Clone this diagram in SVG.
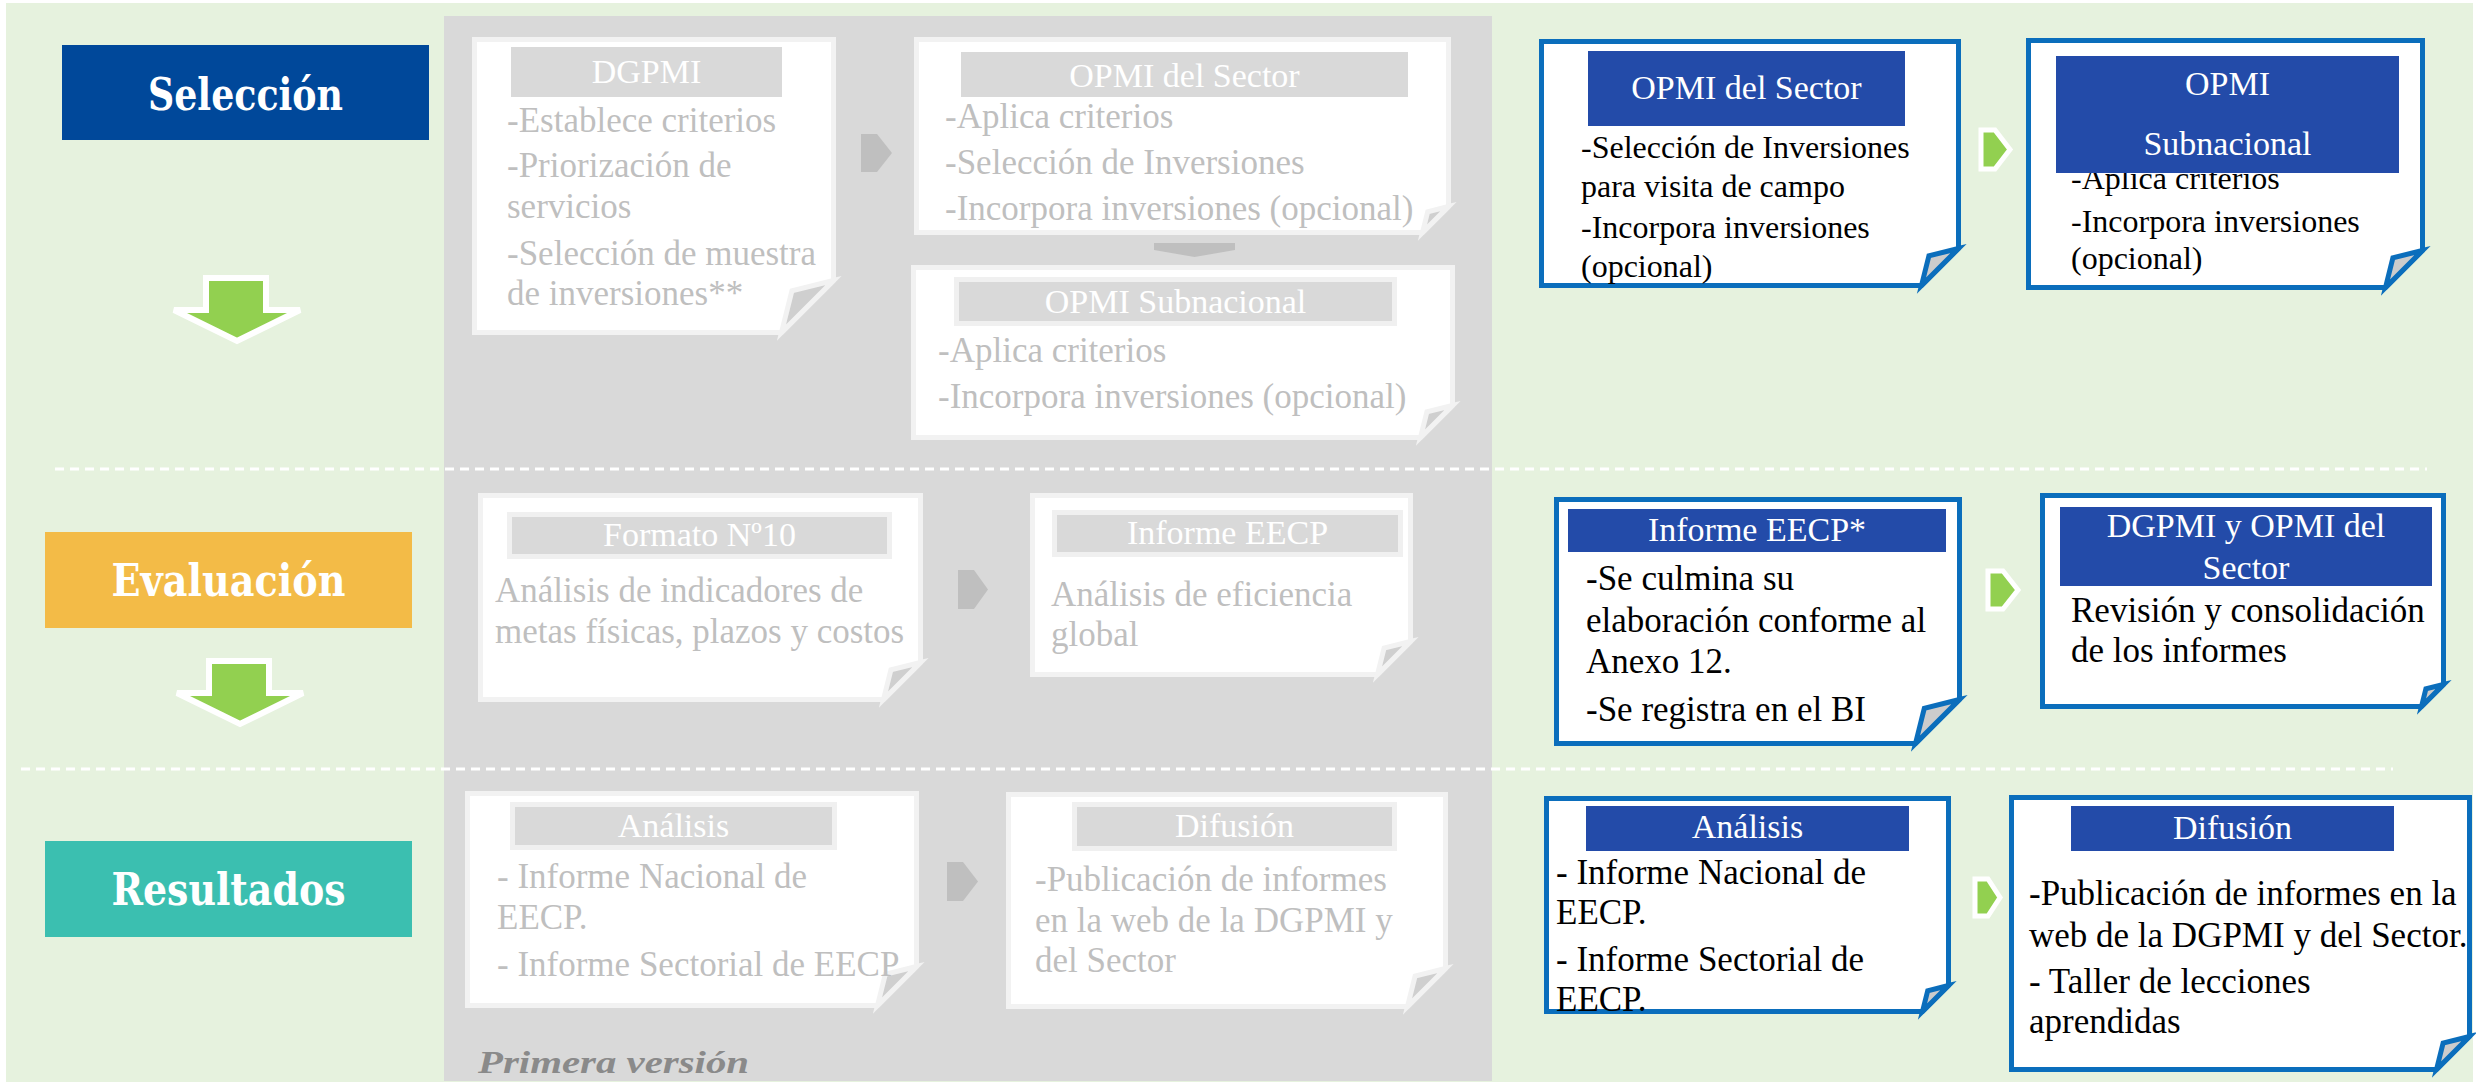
<svg xmlns="http://www.w3.org/2000/svg" width="2476" height="1084" viewBox="0 0 2476 1084">
<defs>
<style>
.bg{fill:#E6F2DE}
.panel{fill:#D9D9D9}
.gdoc{fill:#FFFFFF;stroke:#F2F2F2;stroke-width:5;stroke-linejoin:miter}
.gfold{fill:#CFCFCF;stroke:#F2F2F2;stroke-width:5;stroke-linejoin:miter}
.bdoc{fill:#FFFFFF;stroke:#0B6EBC;stroke-width:5;stroke-linejoin:miter}
.bfold{fill:#CCCCCC;stroke:#0B6EBC;stroke-width:5;stroke-linejoin:miter}
.ghead{fill:#D9D9D9}
.gheadb{fill:#D9D9D9;stroke:#F0F0F0;stroke-width:5}
.bhead{fill:#234BA9}
.ht{font-family:"Liberation Serif",serif;font-size:34px;fill:#FFFFFF;text-anchor:middle}
.gt{font-family:"Liberation Serif",serif;font-size:35px;fill:#BFBFBF}
.bt{font-family:"Liberation Serif",serif;font-size:35px;fill:#000000}
.bt2{font-family:"Liberation Serif",serif;font-size:32px;fill:#000000}
.lbl{font-family:"DejaVu Serif Condensed","DejaVu Serif",serif;font-weight:bold;font-size:44px;fill:#FFFFFF;text-anchor:middle}
.gchev{fill:#BFBFBF}
.green{fill:#92D050;stroke:#FFFFFF;stroke-width:5;stroke-linejoin:miter}
.dash{stroke:#FFFFFF;stroke-width:3;stroke-dasharray:9 6;fill:none}
.darrow{fill:#92D050;stroke:#FFFFFF;stroke-width:6;stroke-linejoin:miter}
</style>
<polygon id="downArrow" points="206,278 266,278 266,310 300,310 237,341 174,310 206,310"/>
</defs>
<rect x="0" y="0" width="2476" height="1084" fill="#FFFFFF"/>
<rect class="bg" x="6" y="3" width="2467" height="1079"/>
<rect class="panel" x="444" y="16" width="1048" height="1065"/>

<g id="separators">
<line class="dash" x1="55" y1="469" x2="2427" y2="469"/>
<line class="dash" x1="21" y1="769" x2="2393" y2="769"/>
</g>

<g id="label-seleccion">
<rect x="62" y="45" width="367" height="95" fill="#00489A"/>
<text class="lbl" x="245.5" y="110" textLength="195" lengthAdjust="spacingAndGlyphs">Selección</text>
</g>
<g id="label-evaluacion">
<rect x="45" y="532" width="367" height="96" fill="#F3BB47"/>
<text class="lbl" x="228.5" y="596" textLength="234" lengthAdjust="spacingAndGlyphs">Evaluación</text>
</g>
<g id="label-resultados">
<rect x="45" y="841" width="367" height="96" fill="#3BBFB0"/>
<text class="lbl" x="228.5" y="905" textLength="234" lengthAdjust="spacingAndGlyphs">Resultados</text>
</g>

<g id="connectors">
<use href="#downArrow" class="darrow"/>
<use href="#downArrow" class="darrow" transform="translate(3,383)"/>
<polygon class="gchev" points="861,134 877,134 892,153 877,172 861,172"/>
<polygon class="gchev" points="1154,243 1235,243 1235,250 1194.5,257 1154,250"/>
<polygon class="gchev" points="958,570 974,570 988,589.5 974,609 958,609"/>
<polygon class="gchev" points="947,862 963,862 978,881.5 963,901 947,901"/>
<polygon class="green" points="1981,130 1995,130 2010,149.5 1995,169 1981,169"/>
<polygon class="green" points="1988,571 2003,571 2018,590 2003,609 1988,609"/>
<polygon class="green" points="1975,879 1988,879 2000,897.5 1988,916 1975,916"/>
</g>

<g id="g-dgpmi">
<path class="gdoc" d="M474.5,39.5 H833.5 V280.5 L781.5,332.5 H474.5 Z"/>
<path class="gfold" d="M833.5,280.5 L791.9,290.9 L781.5,332.5 Z"/>
<rect class="ghead" x="511" y="47" width="271" height="50"/>
<text class="ht" x="646.5" y="83">DGPMI</text>
<text class="gt" x="507" y="132">-Establece criterios</text>
<text class="gt" x="507" y="177">-Priorización de</text>
<text class="gt" x="507" y="218">servicios</text>
<text class="gt" x="507" y="265">-Selección de muestra</text>
<text class="gt" x="507" y="305">de inversiones**</text>
</g>

<g id="g-opmi-sector">
<path class="gdoc" d="M916.5,39.5 H1448.5 V206.5 L1422.5,232.5 H916.5 Z"/>
<path class="gfold" d="M1448.5,206.5 L1427.7,211.7 L1422.5,232.5 Z"/>
<rect class="ghead" x="961" y="52" width="447" height="45"/>
<text class="ht" x="1184.5" y="87">OPMI del Sector</text>
<text class="gt" x="945" y="128">-Aplica criterios</text>
<text class="gt" x="945" y="174">-Selección de Inversiones</text>
<text class="gt" x="945" y="220">-Incorpora inversiones (opcional)</text>
</g>

<g id="g-opmi-subnacional">
<path class="gdoc" d="M913.5,267.5 H1452.5 V405.5 L1420.5,437.5 H913.5 Z"/>
<path class="gfold" d="M1452.5,405.5 L1426.9,411.9 L1420.5,437.5 Z"/>
<rect class="gheadb" x="956.5" y="279.5" width="438" height="44"/>
<text class="ht" x="1175.5" y="313">OPMI Subnacional</text>
<text class="gt" x="938" y="362">-Aplica criterios</text>
<text class="gt" x="938" y="408">-Incorpora inversiones (opcional)</text>
</g>

<g id="g-formato">
<path class="gdoc" d="M480.5,495.5 H920.5 V662.5 L883.5,699.5 H480.5 Z"/>
<path class="gfold" d="M920.5,662.5 L890.9,669.9 L883.5,699.5 Z"/>
<rect class="gheadb" x="509.5" y="514.5" width="380" height="42"/>
<text class="ht" x="699.5" y="546">Formato Nº10</text>
<text class="gt" x="495" y="602">Análisis de indicadores de</text>
<text class="gt" x="495" y="643">metas físicas, plazos y costos</text>
</g>

<g id="g-informe">
<path class="gdoc" d="M1032.5,495.5 H1410.5 V641.5 L1377.5,674.5 H1032.5 Z"/>
<path class="gfold" d="M1410.5,641.5 L1384.1,648.1 L1377.5,674.5 Z"/>
<rect class="gheadb" x="1054.5" y="512.5" width="346" height="42"/>
<text class="ht" x="1227.5" y="544">Informe EECP</text>
<text class="gt" x="1051" y="606">Análisis de eficiencia</text>
<text class="gt" x="1051" y="646">global</text>
</g>

<g id="g-analisis">
<path class="gdoc" d="M467.5,793.5 H916.5 V966.5 L877.5,1005.5 H467.5 Z"/>
<path class="gfold" d="M916.5,966.5 L885.3,974.3 L877.5,1005.5 Z"/>
<rect class="gheadb" x="512.5" y="804.5" width="322" height="43"/>
<text class="ht" x="673.5" y="837">Análisis</text>
<text class="gt" x="497" y="888">- Informe Nacional de</text>
<text class="gt" x="497" y="929">EECP.</text>
<text class="gt" x="497" y="976">- Informe Sectorial de EECP</text>
</g>

<g id="g-difusion">
<path class="gdoc" d="M1008.5,794.5 H1445.5 V968.5 L1407.5,1006.5 H1008.5 Z"/>
<path class="gfold" d="M1445.5,968.5 L1415.1,976.1 L1407.5,1006.5 Z"/>
<rect class="gheadb" x="1074.5" y="804.5" width="320" height="44"/>
<text class="ht" x="1234.5" y="837">Difusión</text>
<text class="gt" x="1035" y="891">-Publicación de informes</text>
<text class="gt" x="1035" y="932">en la web de la DGPMI y</text>
<text class="gt" x="1035" y="972">del Sector</text>
</g>

<text id="primera-version" x="478" y="1073" font-family="Liberation Serif, serif" font-size="32" font-weight="bold" font-style="italic" fill="#8A8A8A" textLength="271" lengthAdjust="spacingAndGlyphs">Primera versión</text>

<g id="b-opmi-sector">
<path class="bdoc" d="M1541.5,41.5 H1958.5 V248.5 L1921.5,285.5 H1541.5 Z"/>
<path class="bfold" d="M1958.5,248.5 L1928.9,255.9 L1921.5,285.5 Z"/>
<rect class="bhead" x="1588" y="51" width="317" height="75"/>
<text class="ht" x="1746.5" y="99">OPMI del Sector</text>
<text class="bt2" x="1581" y="158">-Selección de Inversiones</text>
<text class="bt2" x="1581" y="197">para visita de campo</text>
<text class="bt2" x="1581" y="238">-Incorpora inversiones</text>
<text class="bt2" x="1581" y="277">(opcional)</text>
</g>

<g id="b-opmi-subnacional">
<path class="bdoc" d="M2028.5,40.5 H2422.5 V250.5 L2385.5,287.5 H2028.5 Z"/>
<path class="bfold" d="M2422.5,250.5 L2392.9,257.9 L2385.5,287.5 Z"/>
<text class="bt2" x="2071" y="189">-Aplica criterios</text>
<rect class="bhead" x="2056" y="56" width="343" height="117"/>
<text class="ht" x="2227.5" y="95">OPMI</text>
<text class="ht" x="2227.5" y="155">Subnacional</text>
<text class="bt2" x="2071" y="232">-Incorpora inversiones</text>
<text class="bt2" x="2071" y="269">(opcional)</text>
</g>

<g id="b-informe">
<path class="bdoc" d="M1556.5,499.5 H1959.5 V699.5 L1915.5,743.5 H1556.5 Z"/>
<path class="bfold" d="M1959.5,699.5 L1924.3,708.3 L1915.5,743.5 Z"/>
<rect class="bhead" x="1568" y="509" width="378" height="43"/>
<text class="ht" x="1757" y="541">Informe EECP*</text>
<text class="bt" x="1586" y="590">-Se culmina su</text>
<text class="bt" x="1586" y="632">elaboración conforme al</text>
<text class="bt" x="1586" y="673">Anexo 12.</text>
<text class="bt" x="1586" y="721">-Se registra en el BI</text>
</g>

<g id="b-revision">
<path class="bdoc" d="M2042.5,495.5 H2443.5 V684.5 L2421.5,706.5 H2042.5 Z"/>
<path class="bfold" d="M2443.5,684.5 L2425.9,688.9 L2421.5,706.5 Z"/>
<rect class="bhead" x="2060" y="507" width="372" height="79"/>
<text class="ht" x="2246" y="537">DGPMI y OPMI del</text>
<text class="ht" x="2246" y="579">Sector</text>
<text class="bt" x="2071" y="622">Revisión y consolidación</text>
<text class="bt" x="2071" y="662">de los informes</text>
</g>

<g id="b-analisis">
<path class="bdoc" d="M1546.5,798.5 H1948.5 V985.5 L1922.5,1011.5 H1546.5 Z"/>
<path class="bfold" d="M1948.5,985.5 L1927.7,990.7 L1922.5,1011.5 Z"/>
<rect class="bhead" x="1586" y="806" width="323" height="45"/>
<text class="ht" x="1747.5" y="838">Análisis</text>
<text class="bt" x="1556" y="884">- Informe Nacional de</text>
<text class="bt" x="1556" y="924">EECP.</text>
<text class="bt" x="1556" y="971">- Informe Sectorial de</text>
<text class="bt" x="1556" y="1011">EECP.</text>
</g>

<g id="b-difusion">
<path class="bdoc" d="M2011.5,797.5 H2469.5 V1036.5 L2436.5,1069.5 H2011.5 Z"/>
<path class="bfold" d="M2469.5,1036.5 L2443.1,1043.1 L2436.5,1069.5 Z"/>
<rect class="bhead" x="2071" y="806" width="323" height="45"/>
<text class="ht" x="2232.5" y="839">Difusión</text>
<text class="bt" x="2029" y="905">-Publicación de informes en la</text>
<text class="bt" x="2029" y="947">web de la DGPMI y del Sector.</text>
<text class="bt" x="2029" y="993">- Taller de lecciones</text>
<text class="bt" x="2029" y="1033">aprendidas</text>
</g>
</svg>
